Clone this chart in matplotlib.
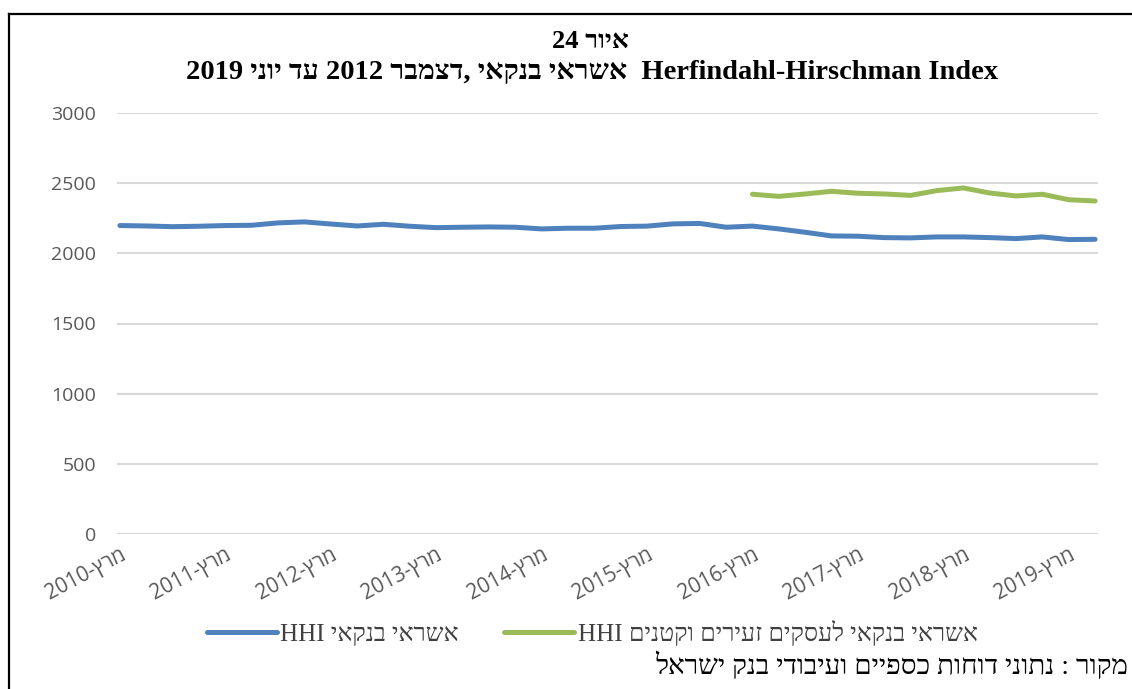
import re
import numpy as np
import matplotlib
matplotlib.use("Agg")
import matplotlib.pyplot as plt
from matplotlib.lines import Line2D

# ---------------- data ----------------
quarters = [f"{y}-{m:02d}" for y in range(2010, 2020) for m in (3, 6, 9, 12)][:38]
hhi_total = [2198, 2195, 2190, 2193, 2198, 2200, 2217, 2224, 2209, 2195,
             2207, 2193, 2183, 2186, 2188, 2186, 2174, 2179, 2179, 2191,
             2194, 2210, 2213, 2186, 2194, 2174, 2150, 2124, 2122, 2112,
             2110, 2117, 2117, 2112, 2105, 2117, 2098, 2100]
hhi_small = [None] * 24 + [2421, 2406, 2423, 2442, 2428, 2423, 2413, 2447,
                           2466, 2430, 2409, 2421, 2382, 2373]
tick_years = list(range(2010, 2020))
yticks = [0, 500, 1000, 1500, 2000, 2500, 3000]

title1 = "איור 24"
title2 = "Herfindahl-Hirschman Index  אשראי בנקאי ,דצמבר 2012 עד יוני 2019"
label_total = "אשראי בנקאי HHI"
label_small = "אשראי בנקאי לעסקים זעירים וקטנים HHI"
source = "מקור : נתוני דוחות כספיים ועיבודי בנק ישראל"
month_word = "מרץ"


def vis(s):
    """Very small bidi helper: logical RTL string -> visual order."""
    r = s[::-1]
    return re.sub(r"[A-Za-z0-9](?:[A-Za-z0-9\- ]*[A-Za-z0-9])?",
                  lambda m: m.group(0)[::-1], r)


SANS = ["Open Sans", "DejaVu Sans"]
SERIF = ["Liberation Serif", "DejaVu Serif", "DejaVu Sans"]

fig = plt.figure(figsize=(11.32, 6.89), dpi=100)
ax = fig.add_axes([117 / 1132, 1 - 534 / 689, (1098 - 117) / 1132, (534 - 113) / 689])

x = np.arange(len(quarters))
yt = np.array(hhi_total, dtype=float)
ys = np.array([np.nan if v is None else v for v in hhi_small], dtype=float)

ax.plot(x, yt, color="#4F81BD", lw=3.6, solid_capstyle="round",
        solid_joinstyle="round", label=vis(label_total), zorder=3)
ax.plot(x, ys, color="#9BBB59", lw=3.6, solid_capstyle="round",
        solid_joinstyle="round", label=vis(label_small), zorder=3)

ax.set_ylim(0, 3000)
ax.set_xlim(-0.11, len(quarters) - 1 + 0.11)
ax.set_yticks(yticks)
ax.set_yticklabels([str(v) for v in yticks], family=SANS, fontsize=14, color="#595959")
ax.yaxis.grid(True, color="#D9D9D9", lw=1.5)
ax.set_axisbelow(True)
ax.tick_params(axis="y", length=0, pad=15)

tick_pos = [quarters.index(f"{y}-03") for y in tick_years]
ax.set_xticks(tick_pos)
ax.set_xticklabels([vis(f"{month_word}-{y}") for y in tick_years], rotation=28,
                   ha="right", rotation_mode="anchor", family=SANS,
                   fontsize=15, color="#595959")
ax.tick_params(axis="x", length=0, pad=7)

for s in ax.spines.values():
    s.set_visible(False)

fig.text(590 / 1132, 1 - 42 / 689, vis(title1), ha="center", va="center",
         family=SERIF, fontsize=19, fontweight="bold")
fig.text(592 / 1132, 1 - 72 / 689, vis(title2), ha="center", va="center",
         family=SERIF, fontsize=20.5, fontweight="bold")

leg = fig.legend(loc="center", bbox_to_anchor=(592 / 1132, 1 - 633 / 689),
                 ncol=2, frameon=False, prop={"family": SERIF, "size": 18},
                 handlelength=2.8, columnspacing=1.8, handletextpad=0.15)
for t in leg.get_texts():
    t.set_color("#404040")

fig.text(1128 / 1132, 1 - 666 / 689, vis(source), ha="right", va="center",
         family=SERIF, fontsize=20, color="black")

# frame lines
fig.add_artist(Line2D([9 / 1132, 9 / 1132], [0, 1 - 14 / 689], color="black",
                      lw=1.6, transform=fig.transFigure))
fig.add_artist(Line2D([9 / 1132, 1], [1 - 14 / 689, 1 - 14 / 689], color="black",
                      lw=1.6, transform=fig.transFigure))

fig.savefig("out.png", dpi=100)
